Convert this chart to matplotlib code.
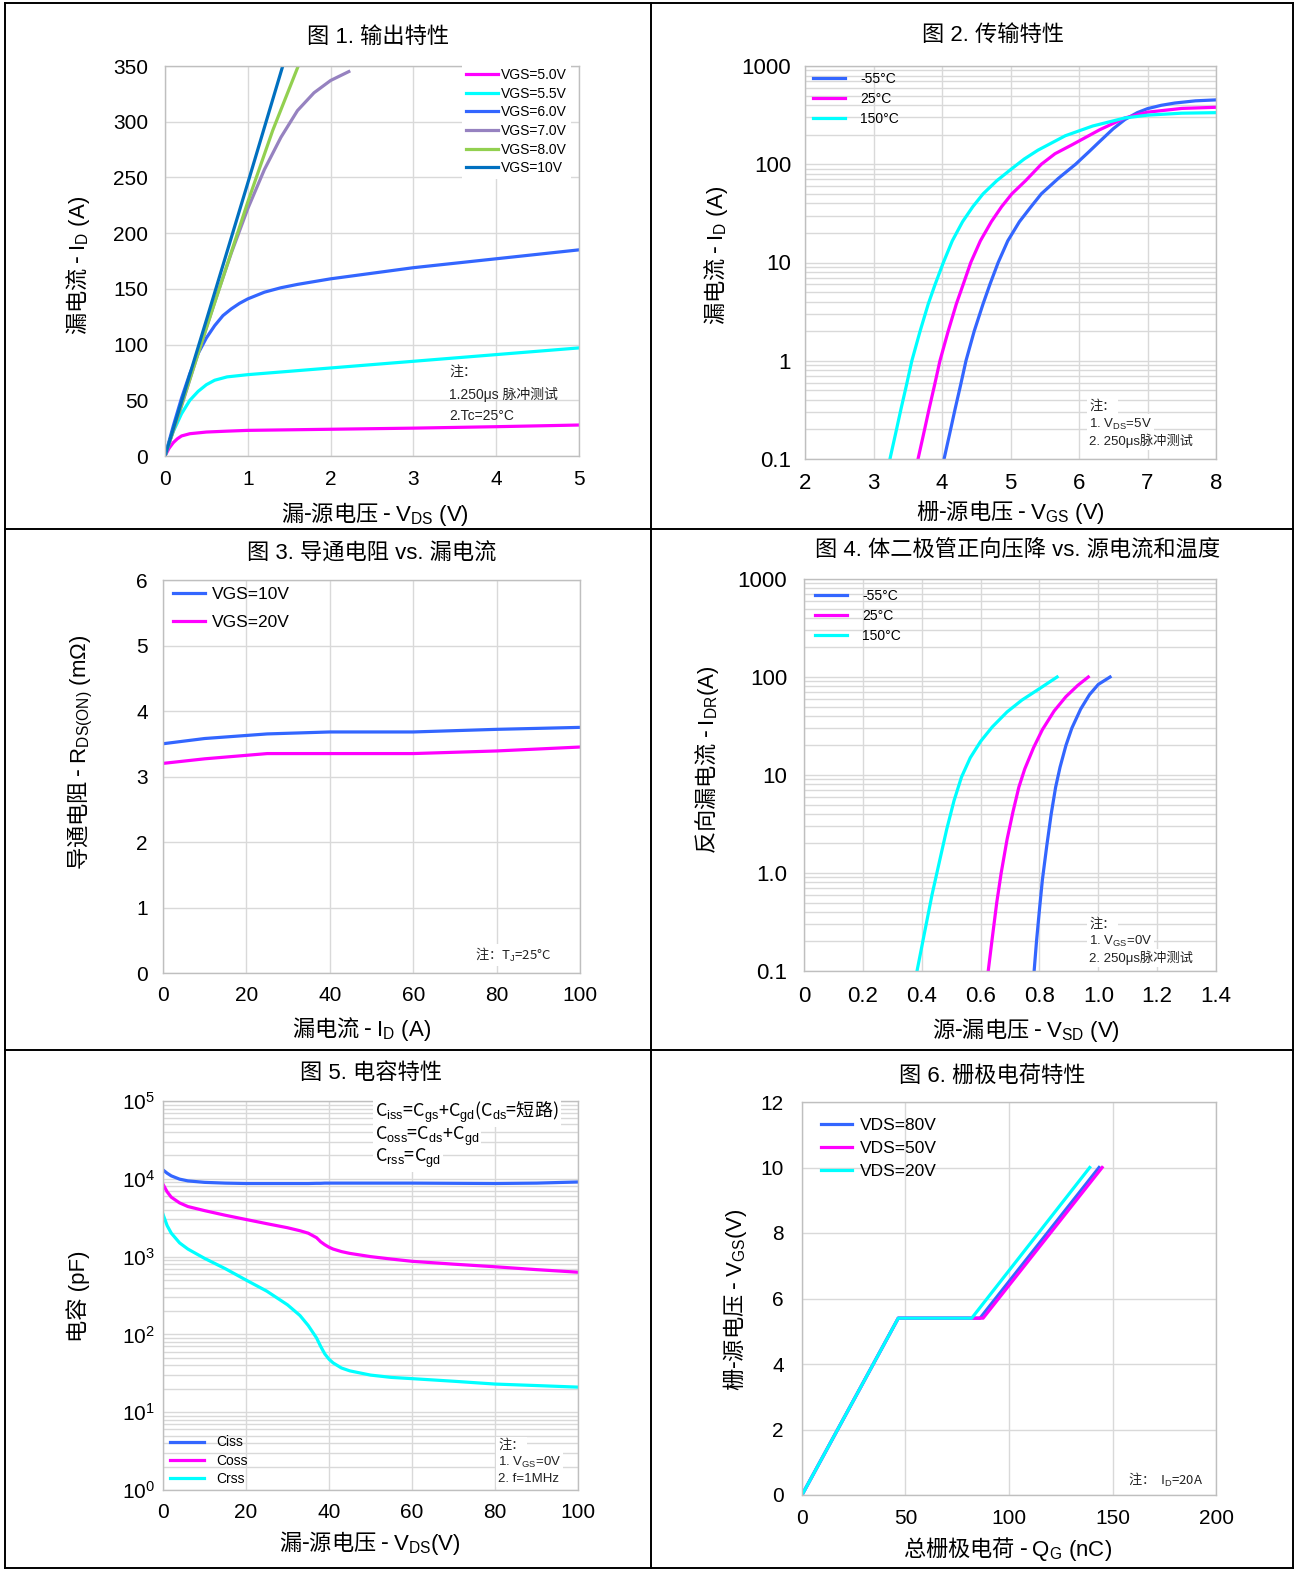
import matplotlib
matplotlib.use('Agg')
import matplotlib.pyplot as plt
from matplotlib.lines import Line2D
from matplotlib.ticker import LogLocator, NullFormatter

plt.rcParams['font.family'] = ['Liberation Sans', 'Noto Sans CJK SC']
plt.rcParams['mathtext.fontset'] = 'custom'
plt.rcParams['mathtext.rm'] = 'Liberation Sans'
plt.rcParams['mathtext.it'] = 'Liberation Sans:italic'
plt.rcParams['mathtext.bf'] = 'Liberation Sans:bold'
plt.rcParams['mathtext.default'] = 'rm'
CJK = ['Noto Sans CJK SC', 'Liberation Sans']

# ---------------- data ----------------
# Fig 1 output characteristics
f1_labels = ['VGS=5.0V', 'VGS=5.5V', 'VGS=6.0V', 'VGS=7.0V', 'VGS=8.0V', 'VGS=10V']
f1_colors = ['#ff00ff', '#00ffff', '#3366ff', '#9682c0', '#92d050', '#0070c0']
f1_vgs50_x = [0, 0.05, 0.1, 0.15, 0.2, 0.3, 0.5, 0.75, 1, 2, 3, 4, 5]
f1_vgs50_y = [0, 7, 12, 15.5, 18, 20, 21.5, 22.3, 23, 24, 25, 26.3, 27.8]
f1_vgs55_x = [0, 0.05, 0.1, 0.2, 0.3, 0.4, 0.5, 0.6, 0.75, 1, 1.5, 2, 3, 4, 5]
f1_vgs55_y = [0, 12, 22, 38, 50, 58, 64, 68, 71, 73, 76, 79, 85, 91, 97]
f1_vgs60_x = [0, 0.1, 0.2, 0.3, 0.4, 0.5, 0.6, 0.7, 0.8, 0.9, 1.0, 1.2, 1.4, 1.6, 2, 2.5, 3, 4, 5]
f1_vgs60_y = [0, 27, 52, 74, 92, 106, 117, 126, 132, 137, 141, 147, 151, 154, 159, 164, 169, 177, 185]
f1_vgs70_x = [0, 0.2, 0.4, 0.6, 0.8, 1.0, 1.2, 1.4, 1.6, 1.8, 2.0, 2.22]
f1_vgs70_y = [0, 45, 92, 138, 182, 222, 257, 286, 310, 326, 337, 345]
f1_vgs80_x = [0, 0.5, 1, 1.3, 1.62]
f1_vgs80_y = [0, 115, 228, 292, 352]
f1_vgs10_x = [0, 0.5, 1, 1.43]
f1_vgs10_y = [0, 122, 245, 352]

# Fig 2 transfer characteristics
f2_labels = ['-55°C', '25°C', '150°C']
f2_colors = ['#3366ff', '#ff00ff', '#00ffff']
f2_m55_x = [4.03, 4.11, 4.19, 4.27, 4.35, 4.47, 4.60, 4.70, 4.82, 4.96, 5.13, 5.3, 5.45, 5.7, 5.95, 6.15, 6.3, 6.5, 6.67, 6.85, 7.0, 7.2, 7.4, 7.7, 8.0]
f2_m55_y = [0.1, 0.178, 0.32, 0.56, 1.0, 2.0, 3.8, 6.0, 10, 16.6, 26, 37, 50, 72, 100, 135, 170, 230, 285, 335, 368, 398, 420, 442, 452]
f2_25_x = [3.65, 3.73, 3.81, 3.89, 3.97, 4.09, 4.21, 4.31, 4.42, 4.56, 4.72, 4.87, 5.02, 5.22, 5.45, 5.65, 5.9, 6.3, 6.67, 7.0, 7.5, 8.0]
f2_25_y = [0.1, 0.178, 0.32, 0.56, 1.0, 2.0, 3.8, 6.0, 10, 16.6, 26, 37, 50, 68, 100, 128, 158, 224, 296, 339, 370, 380]
f2_150_x = [3.24, 3.32, 3.40, 3.48, 3.56, 3.68, 3.80, 3.90, 4.02, 4.15, 4.30, 4.45, 4.6, 4.8, 5.0, 5.2, 5.4, 5.8, 6.2, 6.67, 7.0, 7.5, 8.0]
f2_150_y = [0.1, 0.178, 0.32, 0.56, 1.0, 2.0, 3.8, 6.0, 10, 16.6, 26, 37, 50, 68, 88, 113, 139, 195, 245, 296, 316, 331, 335]

# Fig 3 on-resistance vs drain current
f3_labels = ['VGS=10V', 'VGS=20V']
f3_colors = ['#3366ff', '#ff00ff']
f3_id = [0, 10, 25, 40, 60, 80, 100]
f3_vgs10 = [3.5, 3.58, 3.65, 3.68, 3.68, 3.72, 3.75]
f3_vgs20 = [3.2, 3.27, 3.35, 3.35, 3.35, 3.39, 3.45]

# Fig 4 body diode forward voltage
f4_labels = ['-55°C', '25°C', '150°C']
f4_colors = ['#3366ff', '#ff00ff', '#00ffff']
f4_m55_x = [0.782, 0.79, 0.80, 0.81, 0.825, 0.84, 0.855, 0.87, 0.89, 0.91, 0.94, 0.97, 1.0, 1.04]
f4_m55_y = [0.1, 0.2, 0.42, 0.85, 1.9, 4, 7.5, 12, 20, 30, 47, 66, 84, 100]
f4_25_x = [0.626, 0.64, 0.655, 0.67, 0.69, 0.71, 0.73, 0.75, 0.78, 0.81, 0.85, 0.89, 0.93, 0.966]
f4_25_y = [0.1, 0.22, 0.5, 1.0, 2.2, 4.2, 7.5, 11.5, 19, 29, 45, 63, 82, 100]
f4_150_x = [0.384, 0.41, 0.435, 0.46, 0.485, 0.51, 0.535, 0.565, 0.60, 0.64, 0.69, 0.74, 0.80, 0.86]
f4_150_y = [0.1, 0.25, 0.6, 1.3, 2.8, 5.5, 9.5, 15, 22, 31, 44, 58, 76, 100]

# Fig 5 capacitance
f5_labels = ['Ciss', 'Coss', 'Crss']
f5_colors = ['#3366ff', '#ff00ff', '#00ffff']
f5_vds = [0, 1, 2, 4, 6, 10, 15, 20, 25, 30, 33, 35, 37, 38, 39, 40, 41, 43, 45, 50, 55, 60, 70, 80, 90, 100]
f5_ciss = [13000, 11800, 10900, 9900, 9400, 9000, 8800, 8700, 8700, 8700, 8700, 8700, 8750, 8750, 8800, 8800, 8800, 8800, 8800, 8800, 8800, 8800, 8750, 8700, 8800, 9100]
f5_coss = [8500, 6800, 5800, 4900, 4400, 3900, 3400, 3000, 2650, 2350, 2150, 2000, 1750, 1550, 1420, 1320, 1250, 1160, 1100, 1000, 930, 870, 800, 740, 680, 630]
f5_crss = [3500, 2500, 2000, 1500, 1250, 950, 700, 500, 360, 240, 175, 130, 90, 70, 56, 48, 43, 37, 34, 30, 28, 27, 25, 23, 22, 21]

# Fig 6 gate charge
f6_labels = ['VDS=80V', 'VDS=50V', 'VDS=20V']
f6_colors = ['#3366ff', '#ff00ff', '#00ffff']
f6_80_q = [0, 46.5, 86, 143.5]
f6_80_v = [0, 5.4, 5.4, 10]
f6_50_q = [0, 46.5, 87.5, 145]
f6_50_v = [0, 5.4, 5.4, 10]
f6_20_q = [0, 46.5, 82, 139]
f6_20_v = [0, 5.4, 5.4, 10]

# ---------------- figure ----------------
W, H = 1305, 1583
fig = plt.figure(figsize=(W / 100, H / 100), dpi=100)
fig.patch.set_facecolor('white')


def add_ax(l, t, r, b):
    return fig.add_axes([l / W, 1 - b / H, (r - l) / W, (b - t) / H])


def ftext(x, y, s, rot=0, size=16, family=None, **kw):
    kw2 = dict(ha='center', va='center', rotation=rot, fontsize=size)
    if family is not None:
        kw2['family'] = family
    kw2.update(kw)
    fig.text(x / W, 1 - y / H, s, **kw2)


def fline(x0, y0, x1, y1):
    fig.add_artist(Line2D([x0 / W, x1 / W], [1 - y0 / H, 1 - y1 / H],
                          transform=fig.transFigure, color='black', lw=1.4))


# outer table frame
fline(5, 3, 1293, 3)
fline(5, 1568, 1293, 1568)
fline(5, 3, 5, 1568)
fline(1293, 3, 1293, 1568)
fline(651, 3, 651, 1568)
fline(5, 529, 1293, 529)
fline(5, 1050, 1293, 1050)

GRID = '#d9d9d9'
LW = 2.3
NOTE_C = '#222222'


def style(ax, labelsize=15, padx=10, pady=10):
    for sp in ax.spines.values():
        sp.set_color('#bfbfbf')
        sp.set_linewidth(1.0)
    ax.tick_params(which='both', length=0, labelsize=labelsize)
    ax.tick_params(axis='x', pad=padx)
    ax.tick_params(axis='y', pad=pady)
    ax.grid(True, which='major', color=GRID, lw=1.0)
    ax.set_axisbelow(True)


def log_minor(ax):
    ax.yaxis.set_minor_locator(LogLocator(base=10, subs=range(2, 10)))
    ax.yaxis.set_minor_formatter(NullFormatter())
    ax.grid(True, which='minor', axis='y', color=GRID, lw=1.0)


note_box = dict(facecolor='white', edgecolor='none', pad=1.5)

# ---- Fig 1 ----
ax1 = add_ax(165, 66, 579, 456)
style(ax1, 15, 10, 12)
ax1.set_xlim(0, 5)
ax1.set_ylim(0, 350)
ax1.set_xticks(range(0, 6))
ax1.set_yticks(range(0, 351, 50))
series1 = [(f1_vgs50_x, f1_vgs50_y), (f1_vgs55_x, f1_vgs55_y), (f1_vgs60_x, f1_vgs60_y),
           (f1_vgs70_x, f1_vgs70_y), (f1_vgs80_x, f1_vgs80_y), (f1_vgs10_x, f1_vgs10_y)]
for (x, y), c, lab in zip(series1, f1_colors, f1_labels):
    ax1.plot(x, y, color=c, lw=LW, label=lab)
leg = ax1.legend(loc='upper left', bbox_to_anchor=((462 - 165) / 414, (456 - 64) / 390),
                 fontsize=10, handlelength=2.3, handletextpad=0.2, labelspacing=0.33,
                 borderpad=0.3, borderaxespad=0, frameon=True, fancybox=False)
leg.get_frame().set_edgecolor('none')
leg.get_frame().set_facecolor('white')
leg.get_frame().set_alpha(1)
for yy, s in [(372, '注：'), (394, '1.250μs 脉冲测试'), (416, '2.Tc=25°C')]:
    ax1.text((449 - 165) / 414, (456 - yy) / 390, s, transform=ax1.transAxes,
             fontsize=10, va='center', color=NOTE_C)
ftext(378, 37, '图 1. 输出特性')
ftext(375, 514, '漏-源电压 - $V_{DS}\\ (V)$', family=CJK)
ftext(78, 265, '漏电流 - $I_{D}\\ (A)$', rot=90, family=CJK)

# ---- Fig 2 ----
ax2 = add_ax(805, 66, 1216, 459)
style(ax2, 16, 10, 10)
ax2.set_yscale('log')
ax2.set_xlim(2, 8)
ax2.set_ylim(0.1, 1000)
ax2.set_xticks(range(2, 9))
ax2.set_yticks([0.1, 1, 10, 100, 1000])
ax2.set_yticklabels(['0.1', '1', '10', '100', '1000'])
log_minor(ax2)
series2 = [(f2_m55_x, f2_m55_y), (f2_25_x, f2_25_y), (f2_150_x, f2_150_y)]
for (x, y), c, lab in zip(series2, f2_colors, f2_labels):
    ax2.plot(x, y, color=c, lw=LW, label=lab)
ax2.legend(loc='upper left', bbox_to_anchor=((809 - 805) / 411, (459 - 68) / 393),
           fontsize=10, handlelength=2.3, handletextpad=1.1, labelspacing=0.42,
           borderpad=0.3, borderaxespad=0, frameon=False)
for yy, s in [(406, '注：'), (424, '1. V$_{DS}$=5V'), (441, '2. 250μs脉冲测试')]:
    ax2.text((1089 - 805) / 411, (459 - yy) / 393, s, transform=ax2.transAxes,
             fontsize=9.5, va='center', color=NOTE_C, bbox=note_box)
ftext(993, 35, '图 2. 传输特性')
ftext(1010, 512, '栅-源电压 - $V_{GS}\\ (V)$', family=CJK)
ftext(716, 255, '漏电流 - $I_{D}\\ (A)$', rot=90, family=CJK)

# ---- Fig 3 ----
ax3 = add_ax(163, 580, 580, 973)
style(ax3, 15, 9, 11)
ax3.set_xlim(0, 100)
ax3.set_ylim(0, 6)
ax3.set_xticks(range(0, 101, 20))
ax3.set_yticks(range(0, 7))
for y, c, lab in zip([f3_vgs10, f3_vgs20], f3_colors, f3_labels):
    ax3.plot(f3_id, y, color=c, lw=LW, label=lab)
ax3.legend(loc='upper left', bbox_to_anchor=((168 - 163) / 417, (973 - 582) / 393),
           fontsize=12.5, handlelength=1.85, handletextpad=0.4, labelspacing=0.72,
           borderpad=0.3, borderaxespad=0, frameon=False)
ax3.text((475 - 163) / 417, (973 - 955) / 393, '注：T$_J$=25°C', transform=ax3.transAxes,
         fontsize=9.5, va='center', color=NOTE_C, family=CJK, bbox=note_box)
ftext(372, 554, '图 3. 导通电阻 vs. 漏电流')
ftext(362, 1029, '漏电流 - $I_{D}\\ (A)$', family=CJK)
ftext(80, 752, '导通电阻 - $R_{DS(ON)}\\ (m\\Omega)$', rot=90, family=CJK)

# ---- Fig 4 ----
ax4 = add_ax(804, 579, 1216, 971)
style(ax4, 16, 11, 12)
ax4.set_yscale('log')
ax4.set_xlim(0, 1.4)
ax4.set_ylim(0.1, 1000)
ax4.set_xticks([0, 0.2, 0.4, 0.6, 0.8, 1.0, 1.2, 1.4])
ax4.set_xticklabels(['0', '0.2', '0.4', '0.6', '0.8', '1.0', '1.2', '1.4'])
ax4.set_yticks([0.1, 1, 10, 100, 1000])
ax4.set_yticklabels(['0.1', '1.0', '10', '100', '1000'])
log_minor(ax4)
series4 = [(f4_m55_x, f4_m55_y), (f4_25_x, f4_25_y), (f4_150_x, f4_150_y)]
for (x, y), c, lab in zip(series4, f4_colors, f4_labels):
    ax4.plot(x, y, color=c, lw=LW, label=lab)
ax4.legend(loc='upper left', bbox_to_anchor=((811 - 804) / 412, (971 - 585) / 392),
           fontsize=10, handlelength=2.3, handletextpad=1.1, labelspacing=0.42,
           borderpad=0.3, borderaxespad=0, frameon=False)
for yy, s in [(924, '注：'), (941, '1. V$_{GS}$=0V'), (958, '2. 250μs脉冲测试')]:
    ax4.text((1089 - 804) / 412, (971 - yy) / 392, s, transform=ax4.transAxes,
             fontsize=9.5, va='center', color=NOTE_C, bbox=note_box)
ftext(1018, 551, '图 4. 体二极管正向压降 vs. 源电流和温度')
ftext(1026, 1030, '源-漏电压 - $V_{SD}\\ (V)$', family=CJK)
ftext(707, 760, '反向漏电流 - $I_{DR}(A)$', rot=90, family=CJK)

# ---- Fig 5 ----
ax5 = add_ax(163, 1101, 578, 1490)
style(ax5, 15, 9, 6)
ax5.set_yscale('log')
ax5.set_xlim(0, 100)
ax5.set_ylim(1, 1e5)
ax5.set_xticks(range(0, 101, 20))
ax5.set_yticks([1, 10, 100, 1000, 1e4, 1e5])
ax5.set_yticklabels(['$10^{0}$', '$10^{1}$', '$10^{2}$', '$10^{3}$', '$10^{4}$', '$10^{5}$'])
log_minor(ax5)
for y, c, lab in zip([f5_ciss, f5_coss, f5_crss], f5_colors, f5_labels):
    ax5.plot(f5_vds, y, color=c, lw=LW, label=lab)
ax5.legend(loc='lower left', bbox_to_anchor=((166 - 163) / 415, 0),
           fontsize=10, handlelength=2.4, handletextpad=0.9, labelspacing=0.3,
           borderpad=0.3, borderaxespad=0, frameon=False)
for yy, s in [(1112, 'C$_{iss}$=C$_{gs}$+C$_{gd}$(C$_{ds}$=短路)'),
              (1136, 'C$_{oss}$=C$_{ds}$+C$_{gd}$'),
              (1158, 'C$_{rss}$=C$_{gd}$')]:
    ax5.text((375 - 163) / 415, (1490 - yy) / 389, s, transform=ax5.transAxes,
             fontsize=13, va='center', family=CJK, bbox=note_box)
for yy, s in [(1445, '注：'), (1462, '1. V$_{GS}$=0V'), (1479, '2. f=1MHz')]:
    ax5.text((498 - 163) / 415, (1490 - yy) / 389, s, transform=ax5.transAxes,
             fontsize=9.5, va='center', color=NOTE_C, bbox=note_box)
ftext(371, 1073, '图 5. 电容特性')
ftext(370, 1543, '漏-源电压 - $V_{DS}(V)$', family=CJK)
ftext(78, 1296, '电容 (pF)', rot=90)

# ---- Fig 6 ----
ax6 = add_ax(802, 1102, 1216, 1495)
style(ax6, 15, 10, 13)
ax6.set_xlim(0, 200)
ax6.set_ylim(0, 12)
ax6.set_xticks(range(0, 201, 50))
ax6.set_yticks(range(0, 13, 2))
series6 = [(f6_80_q, f6_80_v), (f6_50_q, f6_50_v), (f6_20_q, f6_20_v)]
for (x, y), c, lab in zip(series6, f6_colors, f6_labels):
    ax6.plot(x, y, color=c, lw=LW, label=lab)
ax6.legend(loc='upper left', bbox_to_anchor=((816 - 802) / 414, (1495 - 1113) / 393),
           fontsize=12.5, handlelength=1.75, handletextpad=0.5, labelspacing=0.45,
           borderpad=0.3, borderaxespad=0, frameon=False)
ax6.text((1128 - 802) / 414, (1495 - 1480) / 393, '注：  I$_D$=20A', transform=ax6.transAxes,
         fontsize=9.5, va='center', color=NOTE_C, family=CJK, bbox=note_box)
ftext(992, 1076, '图 6. 栅极电荷特性')
ftext(1008, 1549, '总栅极电荷 - $Q_{G}\\ (nC)$', family=CJK)
ftext(735, 1300, '栅-源电压 - $V_{GS}(V)$', rot=90, family=CJK)

fig.savefig('out.png', dpi=100, facecolor='white')
